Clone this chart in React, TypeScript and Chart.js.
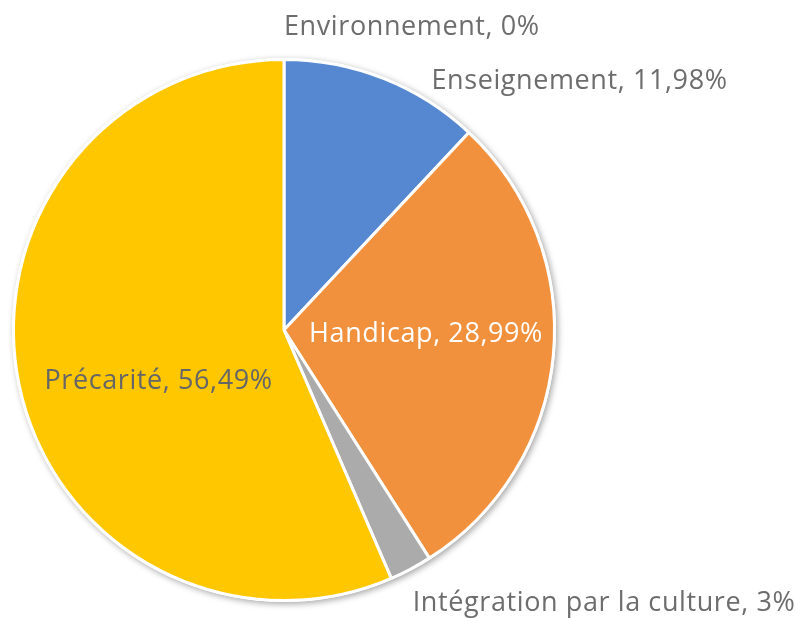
import React, { useEffect, useRef } from "react";
import { Chart, registerables } from "chart.js";

Chart.register(...registerables);

const categories = ["Environnement", "Enseignement", "Handicap", "Intégration par la culture", "Précarité"];
const values = [0, 11.98, 28.99, 2.54, 56.49];
const valueLabels = ["0%", "11,98%", "28,99%", "3%", "56,49%"];
const colors = ["#4f81bd", "#5588D1", "#F2913D", "#ABABAB", "#FFC700"];

const placements: any[] = [
  { mode: "out", dx: 0, dy: -19, align: "left", base: "bottom" },
  { mode: "out", dx: 48, dy: 3, align: "left", base: "middle" },
  { mode: "in", f: 0.52, dx: 2, dy: -9, color: "#ffffff" },
  { mode: "out", dx: 2, dy: 34, align: "left", base: "middle" },
  { mode: "in", f: 0.5, dx: 7, dy: 24, color: "#666666" },
];

const FONT = "27px 'Open Sans', sans-serif";
const TEXT = "#6d6d6d";

const shadowPlugin = {
  id: "pieShadow",
  beforeDatasetsDraw(chart: any) {
    const meta = chart.getDatasetMeta(0);
    const arc = meta.data[0];
    if (!arc) return;
    const { x, y, outerRadius } = arc.getProps(["x", "y", "outerRadius"], true);
    const ctx = chart.ctx;
    ctx.save();
    ctx.shadowColor = "rgba(0,0,0,0.35)";
    ctx.shadowBlur = 6;
    ctx.shadowOffsetX = 2;
    ctx.shadowOffsetY = 2;
    ctx.fillStyle = "#ffffff";
    ctx.beginPath();
    ctx.arc(x, y, outerRadius + 1.5, 0, Math.PI * 2);
    ctx.fill();
    ctx.restore();
  },
};

const labelPlugin = {
  id: "pieLabels",
  afterDatasetsDraw(chart: any) {
    const meta = chart.getDatasetMeta(0);
    const ctx = chart.ctx;
    ctx.save();
    ctx.font = FONT;
    try { (ctx as any).letterSpacing = "0.6px"; } catch (e) {}
    meta.data.forEach((arc: any, i: number) => {
      const { x, y, startAngle, endAngle, outerRadius } = arc.getProps(
        ["x", "y", "startAngle", "endAngle", "outerRadius"],
        true
      );
      const mid = (startAngle + endAngle) / 2;
      const p = placements[i];
      const text = categories[i] + ", " + valueLabels[i];
      if (p.mode === "in") {
        const r = outerRadius * p.f;
        ctx.fillStyle = p.color;
        ctx.textAlign = "center";
        ctx.textBaseline = "middle";
        ctx.fillText(text, x + Math.cos(mid) * r + p.dx, y + Math.sin(mid) * r + p.dy);
      } else {
        const ax = x + Math.cos(mid) * outerRadius;
        const ay = y + Math.sin(mid) * outerRadius;
        ctx.fillStyle = TEXT;
        ctx.textAlign = p.align;
        ctx.textBaseline = p.base;
        ctx.fillText(text, ax + p.dx, ay + p.dy);
      }
    });
    ctx.restore();
  },
};

export default function App() {
  const ref = useRef<HTMLCanvasElement>(null);
  useEffect(() => {
    const chart = new Chart(ref.current!, {
      type: "pie",
      data: {
        labels: categories,
        datasets: [
          {
            data: values,
            backgroundColor: colors,
            borderColor: "#ffffff",
            borderWidth: 3,
            hoverOffset: 0,
          },
        ],
      },
      options: {
        responsive: false,
        animation: false,
        rotation: 0,
        layout: { padding: { left: 12, top: 58, right: 241, bottom: 16 } },
        plugins: { legend: { display: false }, tooltip: { enabled: false } },
      },
      plugins: [shadowPlugin, labelPlugin],
    });
    return () => chart.destroy();
  }, []);
  return (
    <div style={{ position: "fixed", left: 0, top: 0, width: 797, height: 618, background: "#fff" }}>
      <canvas ref={ref} width={797} height={618} style={{ width: 797, height: 618 }} />
    </div>
  );
}
